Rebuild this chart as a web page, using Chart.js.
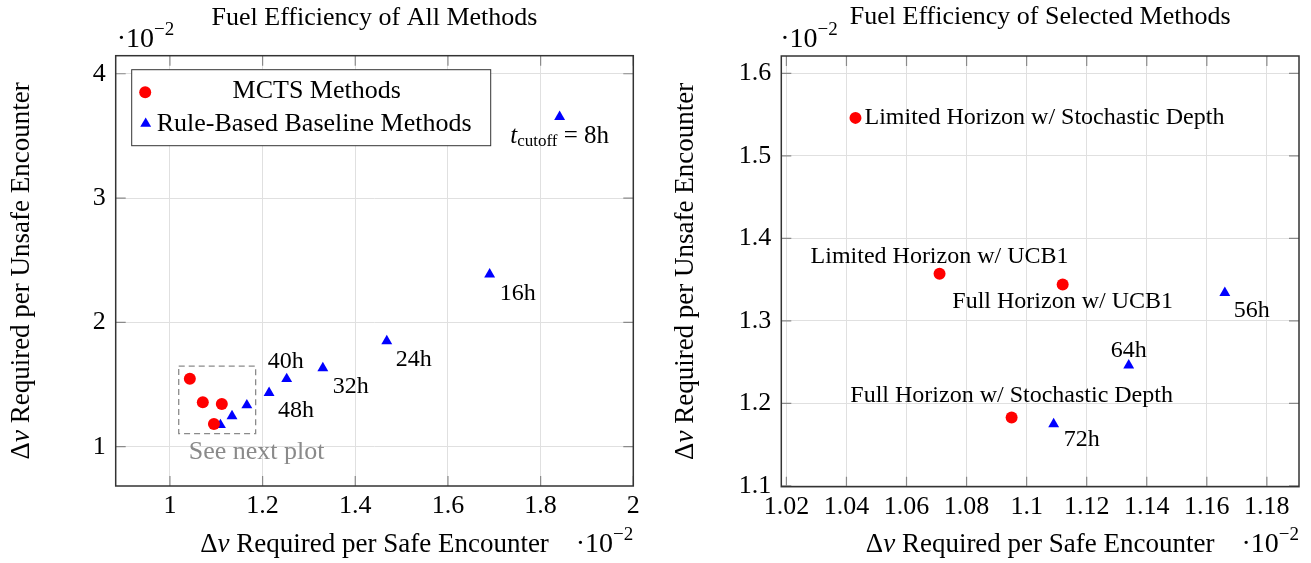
<!DOCTYPE html>
<html><head><meta charset="utf-8">
<script src="https://cdn.jsdelivr.net/npm/chart.js@4.4.0/dist/chart.umd.min.js"></script>
<style>
html,body{margin:0;padding:0;background:#fff;overflow:hidden;}
#wrap{position:relative;width:1311px;height:563px;}
canvas{position:absolute;top:0;}
#c1{left:0;} #c2{left:655px;}
</style></head><body>
<div id="wrap"><canvas id="c1" width="655" height="563"></canvas><canvas id="c2" width="656" height="563"></canvas></div>
<script>
// ---------------- data ----------------
const mctsNames = ["Limited Horizon w/ Stochastic Depth", "Limited Horizon w/ UCB1", "Full Horizon w/ UCB1", "Full Horizon w/ Stochastic Depth"];
const mctsSafe = [1.043, 1.071, 1.112, 1.095];
const mctsUnsafe = [1.546, 1.357, 1.344, 1.183];
const cutoffs = ["8h", "16h", "24h", "32h", "40h", "48h", "56h", "64h", "72h"];
const baseSafe = [1.841, 1.690, 1.468, 1.330, 1.252, 1.214, 1.166, 1.134, 1.109];
const baseUnsafe = [3.654, 2.387, 1.850, 1.633, 1.545, 1.434, 1.334, 1.246, 1.175];
const selectedCutoffs = ["56h", "64h", "72h"];
const leftXTicks = [1, 1.2, 1.4, 1.6, 1.8, 2];
const leftYTicks = [1, 2, 3, 4];
const rightXTicks = [1.02, 1.04, 1.06, 1.08, 1.1, 1.12, 1.14, 1.16, 1.18];
const rightYTicks = [1.1, 1.2, 1.3, 1.4, 1.5, 1.6];
const zoomBoxSafe = [1.019, 1.185];
const zoomBoxUnsafe = [1.105, 1.648];

// ---------------- styles ----------------
const SERIF = "'Liberation Serif','Times New Roman',serif";
const RED = '#ff0000', BLUE = '#0000ff';
function fnt(size, style){ return (style ? style + ' ' : '') + size + 'px ' + SERIF; }
function drawParts(ctx, parts, x, y, align){
  let w = 0;
  parts.forEach(p => { ctx.font = p.font; p.w = ctx.measureText(p.t).width; w += p.w; });
  let sx = align === 'center' ? x - w/2 : (align === 'right' ? x - w : x);
  ctx.textBaseline = 'middle'; ctx.textAlign = 'left';
  parts.forEach(p => { ctx.font = p.font; ctx.fillStyle = p.color || '#000'; ctx.fillText(p.t, sx, y + (p.dy || 0)); sx += p.w; });
}
function marker(ctx, style, x, y, r, color){
  ctx.save(); ctx.fillStyle = color; ctx.beginPath();
  if (style === 'circle') ctx.arc(x, y, r, 0, Math.PI*2);
  else {
    const a = 2*Math.PI/3;
    ctx.moveTo(x, y - r);
    ctx.lineTo(x + r*Math.sin(a), y - r*Math.cos(a));
    ctx.lineTo(x - r*Math.sin(a), y - r*Math.cos(a));
  }
  ctx.closePath(); ctx.fill(); ctx.restore();
}
function times10(ctx, x, y, align){
  drawParts(ctx, [{t:'\u00b710', font:fnt(28)}, {t:'\u22122', font:fnt(19), dy:-10}], x, y, align);
}
function deltaV(rest){ return [{t:'\u0394', font:fnt(27)}, {t:'v', font:fnt(27,'italic')}, {t:rest, font:fnt(27)}]; }

const framePlugin = {
  id: 'frame',
  beforeDatasetsDraw(chart){
    const {ctx, chartArea:a, scales} = chart;
    ctx.save();
    ctx.strokeStyle = '#8a8a8a'; ctx.lineWidth = 1.2;
    ctx.beginPath();
    scales.x.ticks.forEach(t => { const px = scales.x.getPixelForValue(t.value);
      ctx.moveTo(px, a.top); ctx.lineTo(px, a.top + 10); ctx.moveTo(px, a.bottom); ctx.lineTo(px, a.bottom - 10); });
    scales.y.ticks.forEach(t => { const py = scales.y.getPixelForValue(t.value);
      ctx.moveTo(a.left, py); ctx.lineTo(a.left + 10, py); ctx.moveTo(a.right, py); ctx.lineTo(a.right - 10, py); });
    ctx.stroke();
    ctx.strokeStyle = '#333'; ctx.lineWidth = 1.5;
    ctx.strokeRect(a.left, a.top, a.right - a.left, a.bottom - a.top);
    ctx.restore();
  }
};

function makeScales(xmin, xmax, ymin, ymax, xt, yt, xh, yw){
  const common = {
    type: 'linear',
    grid: {color: '#e0e0e0', lineWidth: 1, drawTicks: false},
    border: {display: false},
  };
  return {
    x: Object.assign({}, common, {min: xmin, max: xmax,
      afterBuildTicks: s => { s.ticks = xt.map(v => ({value: v})); },
      afterFit: s => { s.height = xh; },
      ticks: {padding: 5, color: '#000', font: {family: SERIF, size: 26}, maxRotation: 0, autoSkip: false, callback: v => String(v)}}),
    y: Object.assign({}, common, {min: ymin, max: ymax,
      afterBuildTicks: s => { s.ticks = yt.map(v => ({value: v})); },
      afterFit: s => { s.width = yw; },
      ticks: {padding: 10, color: '#000', font: {family: SERIF, size: 26}, autoSkip: false, callback: v => String(v)}})
  };
}

function labelPlugin(id, mctsLab, baseLab){
  return {
    id: id,
    afterDatasetsDraw(chart){
      const {ctx, scales} = chart;
      ctx.save();
      chart.data.datasets.forEach((ds, di) => {
        const labs = di === 0 ? mctsLab : baseLab;
        ds.data.forEach((p) => {
          const L = labs[p.name]; if (!L) return;
          const px = scales.x.getPixelForValue(p.x), py = scales.y.getPixelForValue(p.y);
          const parts = L[3] || [{t: p.name, font: fnt(24)}];
          drawParts(ctx, parts, px + L[0], py + L[1], L[2]);
        });
      });
      ctx.restore();
    }
  };
}

// ---------------- left chart ----------------
const leftMcts = mctsSafe.map((x, i) => ({x: x, y: mctsUnsafe[i], name: mctsNames[i]}));
const leftBase = baseSafe.map((x, i) => ({x: x, y: baseUnsafe[i], name: cutoffs[i]}));
const leftBaseLabels = {
  "8h": [0, 20, 'center', [{t:'t', font:fnt(25,'italic')}, {t:'cutoff', font:fnt(17), dy:5}, {t:' = 8h', font:fnt(25)}]],
  "16h": [10, 19, 'left'], "24h": [9, 19, 'left'], "32h": [10, 19, 'left'],
  "40h": [-1, -17, 'center'], "48h": [9, 18, 'left']
};
const leftDecor = {
  id: 'leftDecor',
  afterDraw(chart){
    const {ctx, chartArea:a, scales} = chart;
    ctx.save();
    const x0 = scales.x.getPixelForValue(zoomBoxSafe[0]), x1 = scales.x.getPixelForValue(zoomBoxSafe[1]);
    const y0 = scales.y.getPixelForValue(zoomBoxUnsafe[1]), y1 = scales.y.getPixelForValue(zoomBoxUnsafe[0]);
    ctx.setLineDash([6, 4]); ctx.strokeStyle = '#8a8a8a'; ctx.lineWidth = 1.3;
    ctx.strokeRect(x0, y0, x1 - x0, y1 - y0); ctx.setLineDash([]);
    drawParts(ctx, [{t:'See next plot', font:fnt(26), color:'#8a8a8a'}], x0 + 10, y1 + 19, 'left');
    // legend
    const lx = a.left + 16, ly = a.top + 14, lw = 359, lh = 76;
    ctx.fillStyle = '#fff'; ctx.fillRect(lx, ly, lw, lh);
    ctx.strokeStyle = '#333'; ctx.lineWidth = 1; ctx.strokeRect(lx, ly, lw, lh);
    marker(ctx, 'circle', lx + 13.5, ly + 22.5, 6, RED);
    drawParts(ctx, [{t: chart.data.datasets[0].label, font: fnt(26)}], lx + 185, ly + 21, 'center');
    marker(ctx, 'triangle', lx + 14, ly + 54, 6.3, BLUE);
    drawParts(ctx, [{t: chart.data.datasets[1].label, font: fnt(26)}], lx + 25, ly + 54, 'left');
    // titles
    const cx = (a.left + a.right) / 2;
    drawParts(ctx, [{t:'Fuel Efficiency of All Methods', font:fnt(26)}], cx, 18, 'center');
    drawParts(ctx, deltaV(' Required per Safe Encounter'), cx, 545, 'center');
    times10(ctx, a.right, 545, 'right');
    times10(ctx, a.left + 1, 40, 'left');
    ctx.translate(22, (a.top + a.bottom) / 2); ctx.rotate(-Math.PI/2);
    drawParts(ctx, deltaV(' Required per Unsafe Encounter'), 0, 0, 'center');
    ctx.restore();
  }
};

new Chart(document.getElementById('c1'), {
  type: 'scatter',
  data: {datasets: [
    {label: 'MCTS Methods', data: leftMcts, pointStyle: 'circle', pointRadius: 6, pointHoverRadius: 6, backgroundColor: RED, borderColor: RED, pointBorderWidth: 0},
    {label: 'Rule-Based Baseline Methods', data: leftBase, pointStyle: 'triangle', pointRadius: 6.3, pointHoverRadius: 6.3, backgroundColor: BLUE, borderColor: BLUE, pointBorderWidth: 0}
  ]},
  options: {
    responsive: false, animation: false, devicePixelRatio: 1,
    layout: {padding: {top: 55.7, right: 21.7, left: 0, bottom: 0}},
    plugins: {legend: {display: false}, tooltip: {enabled: false}, title: {display: false}},
    scales: makeScales(0.883, 2.0, 0.684, 4.145, leftXTicks, leftYTicks, 77, 115.7)
  },
  plugins: [framePlugin, labelPlugin('lab1', {}, leftBaseLabels), leftDecor]
});

// ---------------- right chart ----------------
const rightMcts = mctsSafe.map((x, i) => ({x: x, y: mctsUnsafe[i], name: mctsNames[i]}));
const rightBase = baseSafe.map((x, i) => ({x: x, y: baseUnsafe[i], name: cutoffs[i]})).filter(p => selectedCutoffs.includes(p.name));
const rightMctsLabels = {};
rightMctsLabels[mctsNames[0]] = [9, 0, 'left'];
rightMctsLabels[mctsNames[1]] = [0, -17, 'center'];
rightMctsLabels[mctsNames[2]] = [0, 17, 'center'];
rightMctsLabels[mctsNames[3]] = [0, -22, 'center'];
const rightBaseLabels = {"56h": [9, 18, 'left'], "64h": [0, -15, 'center'], "72h": [10, 16, 'left']};
const rightDecor = {
  id: 'rightDecor',
  afterDraw(chart){
    const {ctx, chartArea:a} = chart;
    ctx.save();
    const cx = (a.left + a.right) / 2;
    drawParts(ctx, [{t:'Fuel Efficiency of Selected Methods', font:fnt(26)}], cx, 17, 'center');
    drawParts(ctx, deltaV(' Required per Safe Encounter'), cx, 545, 'center');
    times10(ctx, a.right, 545, 'right');
    times10(ctx, a.left - 1, 40, 'left');
    ctx.translate(686 - 655, (a.top + a.bottom) / 2); ctx.rotate(-Math.PI/2);
    drawParts(ctx, deltaV(' Required per Unsafe Encounter'), 0, 0, 'center');
    ctx.restore();
  }
};

new Chart(document.getElementById('c2'), {
  type: 'scatter',
  data: {datasets: [
    {label: 'MCTS Methods', data: rightMcts, pointStyle: 'circle', pointRadius: 6, pointHoverRadius: 6, backgroundColor: RED, borderColor: RED, pointBorderWidth: 0},
    {label: 'Rule-Based Baseline Methods', data: rightBase, pointStyle: 'triangle', pointRadius: 6.3, pointHoverRadius: 6.3, backgroundColor: BLUE, borderColor: BLUE, pointBorderWidth: 0}
  ]},
  options: {
    responsive: false, animation: false, devicePixelRatio: 1,
    layout: {padding: {top: 56, right: 12, left: 0, bottom: 0}},
    plugins: {legend: {display: false}, tooltip: {enabled: false}, title: {display: false}},
    scales: makeScales(1.0183, 1.1907, 1.099, 1.621, rightXTicks, rightYTicks, 76.3, 126.3)
  },
  plugins: [framePlugin, labelPlugin('lab2', rightMctsLabels, rightBaseLabels), rightDecor]
});
</script>
</body></html>
